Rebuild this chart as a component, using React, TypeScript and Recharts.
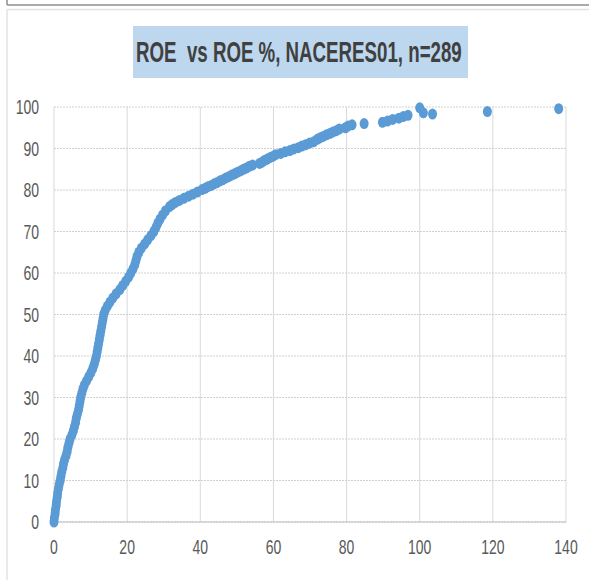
import React from "react";
import {
  CartesianGrid,
  Scatter,
  ScatterChart,
  XAxis,
  YAxis,
} from "recharts";

// ROE value (x) and ROE percentile (y)
const roe = [
  0, 0.1, 0.3, 0.4, 0.6, 0.7, 0.9, 1.0, 1.2, 1.4,
  1.7, 1.9, 2.1, 2.4, 2.6, 2.9, 3.3, 3.6, 3.8, 4.1,
  4.4, 4.9, 5.3, 5.6, 5.9, 6.1, 6.4, 6.7, 6.9, 7.1,
  7.3, 7.6, 7.9, 8.3, 8.9, 9.5, 10.1, 10.6, 11.0, 11.3,
  11.6, 11.8, 12.0, 12.2, 12.4, 12.6, 12.8, 13.0, 13.2, 13.4,
  13.6, 14.0, 14.6, 15.3, 16.1, 17.0, 18.0, 18.8, 19.6, 20.4,
  21.0, 21.6, 22.1, 22.4, 22.7, 23.2, 23.9, 24.8, 25.6, 26.5,
  27.3, 27.9, 28.4, 29.0, 29.7, 30.5, 31.6, 32.3, 33.2, 34.3,
  35.5, 36.8, 38.0, 39.2,
  40.5, 41.3, 42.1, 43.0, 43.8, 44.6, 45.4, 46.2, 47.0, 47.8,
  48.6, 49.4, 50.2, 51.0, 51.8, 52.6, 53.4, 54.3, 56.2, 56.9,
  57.5, 58.2, 59.0, 59.8, 60.6, 62.0, 63.2, 64.5, 65.6, 66.8,
  67.8, 68.8, 69.9, 71.0, 72.0, 72.8, 73.6, 74.5, 75.4, 76.3,
  77.2, 78.0, 79.7, 80.4, 81.5, 84.8, 89.8, 91.2, 92.6, 94.3,
  95.5, 96.8, 100.0, 101.0, 103.5, 118.5, 138.0,
];

const roePct = [
  0, 1, 2, 3, 4, 5, 6, 7, 8, 9,
  10, 11, 12, 13, 14, 15, 16, 17, 18, 19,
  20, 21, 22, 23, 24, 25, 26, 27, 28, 29,
  30, 31, 32, 33, 34, 35, 36, 37, 38, 39,
  40, 41, 42, 43, 44, 45, 46, 47, 48, 49,
  50, 51, 52, 53, 54, 55, 56, 57, 58, 59,
  60, 61, 62, 63, 64, 65, 66, 67, 68, 69,
  70, 71, 72, 73, 74, 75, 76, 76.5, 77, 77.5,
  78, 78.5, 79, 79.5,
  80.1, 80.4, 80.8, 81.1, 81.5, 81.8, 82.2, 82.5, 82.9, 83.2,
  83.6, 83.9, 84.3, 84.6, 85.0, 85.3, 85.7, 86.0, 86.4, 86.7,
  87.1, 87.4, 87.8, 88.1, 88.5, 88.8, 89.2, 89.5, 89.9, 90.2,
  90.6, 90.9, 91.3, 91.6, 92.2, 92.6, 92.9, 93.3, 93.6, 94.0,
  94.3, 94.7, 95.0, 95.4, 95.7, 96.0, 96.3, 96.6, 97.0, 97.3,
  97.7, 98.0, 99.8, 98.6, 98.3, 98.9, 99.6,
];

const xTicks = [0, 20, 40, 60, 80, 100, 120, 140];
const yTicks = [0, 10, 20, 30, 40, 50, 60, 70, 80, 90, 100];

const TITLE = "ROE  vs ROE %, NACERES01, n=289";
const FONT = '"Liberation Sans", Arial, sans-serif';

const points = roe.map((x, i) => ({ x, y: roePct[i] }));

const Dot = (p: any) => (
  <ellipse cx={p.cx} cy={p.cy} rx={4.5} ry={5.5} fill="#5B9BD5" />
);

// narrow, tall tick labels (the original uses a condensed face)
const XTick = (p: any) => (
  <g transform={`translate(${p.x},${p.y + 30}) scale(0.7,1)`}>
    <text textAnchor="middle" fill="#595959" fontFamily={FONT} fontSize={20}>
      {p.payload.value}
    </text>
  </g>
);

const YTick = (p: any) => (
  <g transform={`translate(${p.x},${p.y + 7}) scale(0.7,1)`}>
    <text textAnchor="end" fill="#595959" fontFamily={FONT} fontSize={20}>
      {p.payload.value}
    </text>
  </g>
);

export default function App() {
  return (
    <div style={{ position: "absolute", left: 0, top: 0, width: 589, height: 580, background: "#fff" }}>
      <svg width={589} height={580} style={{ position: "absolute", left: 0, top: 0 }}>
        <line x1={7} y1={0} x2={7} y2={5} stroke="#8c8c8c" strokeWidth={1.5} />
        <line x1={7} y1={5} x2={589} y2={5} stroke="#8c8c8c" strokeWidth={1.5} />
        <line x1={7} y1={9.5} x2={589} y2={9.5} stroke="#e3e3e3" strokeWidth={1.5} />
        <line x1={7} y1={9.5} x2={7} y2={580} stroke="#e3e3e3" strokeWidth={1.5} />
        <rect x={133} y={26} width={335} height={52} fill="#BDD7EE" />
        <g transform="translate(136,62) scale(0.645,1)">
          <text
            fill="#404040"
            fontFamily={FONT}
            fontWeight="bold"
            fontSize={29}
            style={{ whiteSpace: "pre" }}
          >
            {TITLE}
          </text>
        </g>
      </svg>
      <div style={{ position: "absolute", left: 0, top: 0 }}>
        <ScatterChart
          width={589}
          height={580}
          margin={{ top: 107, right: 23, bottom: 28, left: 14 }}
        >
          <CartesianGrid horizontal={false} stroke="#d9d9d9" />
          <CartesianGrid vertical={false} stroke="#d0d0d0" strokeDasharray="2 1" />
          <XAxis
            type="number"
            dataKey="x"
            domain={[0, 140]}
            ticks={xTicks}
            axisLine={{ stroke: "#bfbfbf" }}
            tickLine={false}
            tickSize={0}
            height={30}
            tick={XTick}
          />
          <YAxis
            type="number"
            dataKey="y"
            domain={[0, 100]}
            ticks={yTicks}
            axisLine={false}
            tickLine={false}
            tickSize={0}
            tickMargin={15}
            width={40}
            tick={YTick}
          />
          <Scatter data={points} shape={Dot} isAnimationActive={false} />
        </ScatterChart>
      </div>
    </div>
  );
}
